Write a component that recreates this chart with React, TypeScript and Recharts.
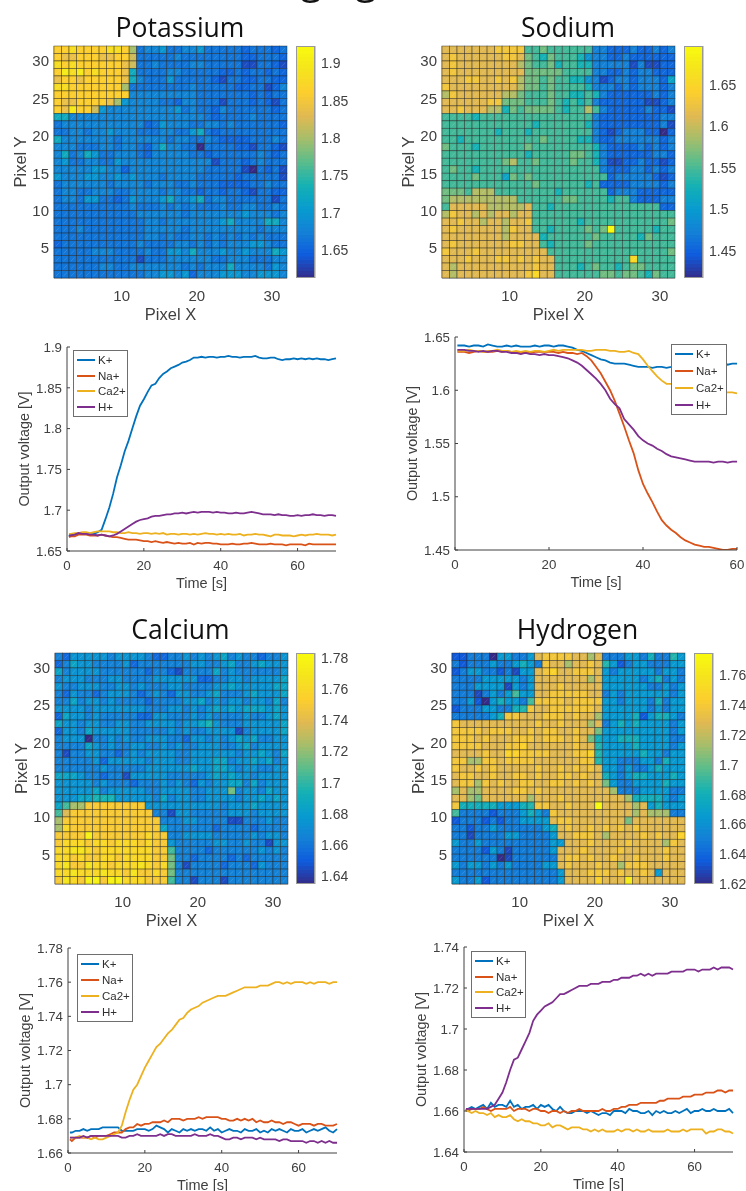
import React from 'react';
import { ScatterChart, Scatter, XAxis, YAxis, LineChart, Line, Legend } from 'recharts';

const ionNames = ['K+', 'Na+', 'Ca2+', 'H+'];
const ionColors = ['#0072BD', '#D95319', '#EDB120', '#7E2F8E'];
const parulaStops = ['#352A87', '#0F5CDD', '#1481D6', '#079CCF', '#15B1B4', '#59BD8C', '#A5BE6B', '#E1B952', '#FCCE2E', '#F5E41D', '#F9FB0E'];

// Map readings: one string per row (top row first), each char is an index into that map's voltage levels
const potassiumLevels = [1.613, 1.634, 1.652, 1.665, 1.68, 1.699, 1.725, 1.758, 1.778, 1.799, 1.82, 1.84, 1.861, 1.882, 1.902, 1.923];
const potassiumRows = [
  'ccdccccddc 9344533445 33333233323',
  'cbbcccbbcc a333334333 33333223332',
  'dcdccccccb a334333344 33333113321',
  'cedecdcccb 6333344333 33223233232',
  'bccbcccccb 6433353333 32133223322',
  'ddccccccc9 3333333343 33332233124',
  'cccccccccc 4444444443 33333323233',
  'cbbccccb95 4444332443 33133323213',
  'cbecca5444 4444445343 32433333323',
  '6644444444 4444444444 32333343333',
  '3444444444 4423544433 44343333332',
  '3344344544 4333443356 32333333333',
  '6444444434 4444434433 43222233343',
  '4443334434 4324644330 33332213321',
  '4634653344 4324444433 23333334323',
  '4533443354 4444444444 41333234333',
  '4444455442 4444444444 33333103231',
  '5444554454 5444344443 33332333331',
  '3444444344 4434443343 33222233433',
  '3443344433 4444344332 33233213322',
  '3443553323 5444564456 34433333313',
  '3333333333 4333434343 33433443343',
  '3333333333 3444444344 44444544434',
  '3333333333 3344344444 44564444664',
  '3334333333 3344444344 44444443444',
  '3333333333 3344343344 34343434333',
  '2333333333 3433334434 34344455433',
  '3333344433 3343355464 44544544465',
  '3333333333 3133344444 43344433344',
  '3333334433 4444444343 44464444354',
  '3333333333 3344554524 44555445554'
];

const sodiumLevels = [1.417, 1.436, 1.454, 1.473, 1.492, 1.51, 1.529, 1.548, 1.566, 1.591, 1.613, 1.63, 1.655, 1.667, 1.678, 1.697];
const sodiumRows = [
  'aaaaaaabbb b778777777 33222322323',
  'abaaaaaabb a876877764 33223222222',
  'abaaaaaaaa 9877867766 33333131122',
  'abaaaaaaaa a888887777 33223233222',
  'aaabbaabab 9887877664 31233233325',
  'baaaaaaaaa 9887877776 33323233323',
  '9baaaaaa99 8777877667 63222222323',
  'aaaaaabb88 8777876767 32222221123',
  'aabaaa9968 7888876779 73222223221',
  '7777677777 7777777777 32222222233',
  '7777777777 7767777776 32222222231',
  '7777777677 7677777777 32123332202',
  '7767777777 7778777766 32233333323',
  '8777677777 7877777777 63222232323',
  '7777777777 7677777887 63222222332',
  '7777777789 7787777877 63112232212',
  '7877677777 7777777777 73222332323',
  '7777877758 7877777777 77233333212',
  '7777777777 7787777776 72222333323',
  '8887999777 7777767777 77233322222',
  '8999999999 7777778877 77677322233',
  '7aaaaa9999 9a77677777 77777777722',
  '9baa9a9aa9 aa77777777 77777777777',
  'aabaa9aa9a ab77777767 77777777778',
  'abaaaaaa9b aa77677778 78f77777677',
  'aaaaaaaa9a aaa6777777 87777768777',
  'abaaaaaaab baa7677778 77777777777',
  'baaabaaaaa aaaa777777 77777777778',
  'aaabaaabba babaa77777 77777c77777',
  'a9aaaaaaaa aabaa77767 87767887777',
  'a9aaaaaaaa abcaa77777 78878876877'
];

const calciumLevels = [1.635, 1.645, 1.655, 1.665, 1.675, 1.685, 1.695, 1.704, 1.714, 1.724, 1.737, 1.7505, 1.7594, 1.768, 1.777, 1.783];
const calciumRows = [
  '3244444344 4432233434 34534332334',
  '2354433334 2333333344 33453345444',
  '5344443333 3323321333 35343333334',
  '3444333443 3334444442 23344344445',
  '4334443344 3433344333 34454444455',
  '3243323444 3234324433 45333454445',
  '3353443433 3323333445 34344344353',
  '4444344444 4433344343 45454555454',
  '2544343333 3224433343 43333433454',
  '5443443344 3344443445 64333444445',
  '2443544444 3333343433 44441344445',
  '3444033434 3344433244 34345453344',
  '3333543433 4433434334 44334534444',
  '3133443323 4344443344 44443445435',
  '3333342444 4434443344 45534454534',
  '3333334333 3344444454 45543443344',
  '5554332331 4444433333 45454434444',
  '4444434333 2333434324 34455353444',
  '4444453444 4433444433 44483443544',
  '4445566644 4443534433 44443445454',
  '5799bbbbbb bb44444444 44344454444',
  '7abbbbbbbb bbb3314433 33344434444',
  '9bbbbbbbbb bbbb333443 33311333433',
  '9cbbbbbbbb bbbb533333 32333323333',
  'bbbbebbbbb bbcbb33444 43333343443',
  'bcccbccbcc cbcbb43333 34433433144',
  'ccddcbcccc cccbb73333 23333334343',
  'ccbcbbccbc cccbb83323 33323233333',
  'cdbbdccbcc cdcbc83133 33233324333',
  'ccdcccdccb dbbcb83333 33333333333',
  'bdcbeebeec ccbbb73313 33133333333'
];

const hydrogenLevels = [1.62, 1.63, 1.635, 1.649, 1.665, 1.679, 1.685, 1.692, 1.703, 1.713, 1.7286, 1.738, 1.747, 1.754, 1.765, 1.775];
const hydrogenRows = [
  '2233304433 4abbbbaa9a 33344353364',
  '3233343345 43baa9aaba 64234433344',
  '2344332314 4abcaabbba 43444443443',
  '3333444443 4aaaaaaa9a 44444345343',
  '3334444143 4aaabaaaaa 44444433434',
  '3331343474 4aabbbbbaa 34344444434',
  '3342045443 7bbbbabbbb 44344435344',
  '2333443356 baabbbbbba 44444434344',
  '3333345bba aabbbabaa9 44445245543',
  'baaaaaaaaa abaabaaa9a 34545444434',
  'bbbbabbbaa babbaabaa8 44444444434',
  'bbbabaaabb babbbaba85 44555444433',
  'bbbbaaabbc aaaaaabaa6 44445444434',
  'aaaabaaccb bbbaaabbc6 44444544344',
  'bb99bbabbb baaaaaabb6 44333443544',
  'baababaaaa abaabababa 44343345444',
  'abbaabaabb abaabbabaa 54345544454',
  'abb9babaab baabbababa 84334444544',
  '9a99aaaabb abaaaaaaaa a9333444433',
  'aa98aaaaaa 9aaabaaaaa aaa95555434',
  'b555554445 6bbaabaaaf aaaa9a45444',
  '7333323334 543baaaaaa aaaa9a99933',
  '2333232334 444abbaaaa aaa8aaaaaaa',
  '3323343333 3345abaaba bababaaaaaa',
  '3313333443 3334aabbba 9aaaababaac',
  '4334333333 33344aaaba aaabaaaa9ba',
  '3333243133 3334aaabaa aabaaaaabaa',
  '3333330133 3333abbaba abaabaaabaa',
  '4344343433 3344abaaab aa9bbbaaaaa',
  '3333333333 33334aaabb babaaba4aaa',
  '4334233333 33334aaaac aaaeaaaaaaa'
];

const potassiumTimes = [0.5, 1, 2, 3, 4, 5, 6, 7, 8, 9, 10, 11, 12, 13, 14, 15, 16, 17, 18, 19, 20, 21, 22, 23, 24, 25, 26, 27, 28, 29, 30, 31, 32, 33, 34, 35, 36, 37, 38, 39, 40, 41, 42, 43, 44, 45, 46, 47, 48, 49, 50, 51, 52, 53, 54, 55, 56, 57, 58, 59, 60, 61, 62, 63, 64, 65, 66, 67, 68, 69, 70];
const sodiumTimes = potassiumTimes.slice(0, 61);

const kPanelK = [1.668, 1.670, 1.670, 1.671, 1.671, 1.671, 1.670, 1.671, 1.673, 1.676, 1.689,
  1.703, 1.720, 1.740, 1.755, 1.772, 1.785, 1.800, 1.815, 1.828, 1.836,
  1.845, 1.853, 1.855, 1.862, 1.867, 1.870, 1.874, 1.876, 1.878, 1.881,
  1.882, 1.884, 1.887, 1.887, 1.888, 1.887, 1.888, 1.888, 1.887, 1.888,
  1.888, 1.889, 1.888, 1.888, 1.887, 1.888, 1.888, 1.888, 1.889, 1.887,
  1.886, 1.886, 1.887, 1.887, 1.885, 1.884, 1.885, 1.885, 1.886, 1.885,
  1.886, 1.885, 1.886, 1.885, 1.886, 1.885, 1.885, 1.884, 1.885, 1.886];
const kPanelNa = [1.667, 1.668, 1.668, 1.670, 1.670, 1.670, 1.669, 1.669, 1.669, 1.670, 1.669,
  1.668, 1.667, 1.667, 1.666, 1.665, 1.664, 1.664, 1.664, 1.663, 1.662,
  1.662, 1.661, 1.662, 1.661, 1.660, 1.661, 1.660, 1.659, 1.660, 1.659,
  1.659, 1.660, 1.658, 1.660, 1.659, 1.660, 1.660, 1.659, 1.659, 1.658,
  1.658, 1.658, 1.659, 1.658, 1.658, 1.659, 1.659, 1.660, 1.659, 1.658,
  1.658, 1.658, 1.659, 1.658, 1.658, 1.658, 1.657, 1.658, 1.658, 1.658,
  1.658, 1.657, 1.659, 1.658, 1.658, 1.658, 1.658, 1.658, 1.658, 1.658];
const kPanelCa = [1.671, 1.671, 1.672, 1.672, 1.673, 1.673, 1.672, 1.673, 1.674, 1.674, 1.674,
  1.674, 1.673, 1.673, 1.672, 1.672, 1.673, 1.672, 1.672, 1.671, 1.672,
  1.672, 1.671, 1.672, 1.671, 1.672, 1.670, 1.671, 1.671, 1.670, 1.671,
  1.671, 1.670, 1.671, 1.670, 1.671, 1.672, 1.671, 1.671, 1.670, 1.671,
  1.670, 1.671, 1.670, 1.670, 1.671, 1.669, 1.670, 1.670, 1.671, 1.670,
  1.670, 1.669, 1.668, 1.670, 1.670, 1.669, 1.669, 1.669, 1.668, 1.669,
  1.670, 1.669, 1.670, 1.670, 1.671, 1.670, 1.670, 1.670, 1.669, 1.670];
const kPanelH = [1.669, 1.669, 1.670, 1.672, 1.671, 1.671, 1.670, 1.670, 1.669, 1.670, 1.669,
  1.668, 1.669, 1.671, 1.674, 1.677, 1.680, 1.683, 1.686, 1.688, 1.689,
  1.690, 1.692, 1.693, 1.693, 1.694, 1.695, 1.695, 1.696, 1.696, 1.697,
  1.696, 1.697, 1.698, 1.697, 1.698, 1.698, 1.698, 1.697, 1.698, 1.697,
  1.697, 1.696, 1.696, 1.697, 1.696, 1.696, 1.697, 1.698, 1.697, 1.696,
  1.695, 1.695, 1.695, 1.694, 1.695, 1.694, 1.694, 1.693, 1.693, 1.694,
  1.693, 1.694, 1.694, 1.695, 1.694, 1.694, 1.693, 1.694, 1.694, 1.693];

const naPanelK = [1.642, 1.642, 1.642, 1.641, 1.642, 1.642, 1.641, 1.643, 1.642, 1.641, 1.641,
  1.642, 1.641, 1.642, 1.641, 1.641, 1.641, 1.642, 1.641, 1.642, 1.642,
  1.641, 1.642, 1.642, 1.641, 1.640, 1.638, 1.637, 1.635, 1.633, 1.631,
  1.629, 1.628, 1.626, 1.625, 1.625, 1.625, 1.624, 1.623, 1.622, 1.622,
  1.622, 1.621, 1.622, 1.622, 1.621, 1.622, 1.624, 1.624, 1.624, 1.625,
  1.626, 1.626, 1.625, 1.626, 1.626, 1.625, 1.626, 1.624, 1.625, 1.625];
const naPanelNa = [1.636, 1.636, 1.636, 1.635, 1.636, 1.637, 1.636, 1.636, 1.636, 1.637, 1.636,
  1.637, 1.636, 1.636, 1.635, 1.636, 1.635, 1.636, 1.636, 1.636, 1.636,
  1.636, 1.635, 1.636, 1.635, 1.635, 1.634, 1.635, 1.632, 1.628, 1.622,
  1.616, 1.608, 1.600, 1.590, 1.578, 1.566, 1.553, 1.541, 1.525, 1.512,
  1.503, 1.495, 1.486, 1.478, 1.473, 1.469, 1.466, 1.462, 1.459, 1.457,
  1.455, 1.454, 1.453, 1.453, 1.452, 1.451, 1.450, 1.450, 1.451, 1.451];
const naPanelCa = [1.637, 1.637, 1.637, 1.638, 1.637, 1.637, 1.636, 1.637, 1.637, 1.638, 1.637,
  1.637, 1.636, 1.637, 1.636, 1.637, 1.636, 1.637, 1.637, 1.636, 1.637,
  1.638, 1.637, 1.638, 1.638, 1.638, 1.638, 1.638, 1.637, 1.637, 1.638,
  1.638, 1.638, 1.637, 1.637, 1.636, 1.636, 1.637, 1.635, 1.634, 1.629,
  1.623, 1.618, 1.613, 1.609, 1.606, 1.606, 1.605, 1.605, 1.604, 1.603,
  1.602, 1.601, 1.600, 1.600, 1.599, 1.599, 1.598, 1.598, 1.598, 1.597];
const naPanelH = [1.638, 1.638, 1.638, 1.637, 1.637, 1.636, 1.637, 1.636, 1.637, 1.637, 1.636,
  1.636, 1.635, 1.635, 1.634, 1.635, 1.634, 1.634, 1.633, 1.634, 1.633,
  1.633, 1.632, 1.631, 1.630, 1.628, 1.626, 1.623, 1.619, 1.615, 1.611,
  1.606, 1.600, 1.592, 1.587, 1.583, 1.573, 1.568, 1.563, 1.557, 1.553,
  1.550, 1.548, 1.545, 1.543, 1.540, 1.538, 1.537, 1.536, 1.535, 1.534,
  1.533, 1.533, 1.533, 1.533, 1.532, 1.533, 1.533, 1.532, 1.533, 1.533];

const caPanelK = [1.672, 1.672, 1.673, 1.673, 1.674, 1.673, 1.674, 1.674, 1.674, 1.675, 1.675,
  1.675, 1.675, 1.675, 1.673, 1.673, 1.673, 1.673, 1.674, 1.674, 1.674,
  1.673, 1.674, 1.676, 1.675, 1.674, 1.672, 1.674, 1.673, 1.672, 1.674,
  1.673, 1.674, 1.673, 1.674, 1.674, 1.673, 1.675, 1.673, 1.674, 1.672,
  1.673, 1.674, 1.673, 1.673, 1.672, 1.674, 1.673, 1.673, 1.674, 1.672,
  1.673, 1.672, 1.674, 1.673, 1.674, 1.673, 1.672, 1.674, 1.673, 1.673,
  1.674, 1.672, 1.673, 1.674, 1.673, 1.674, 1.675, 1.673, 1.672, 1.674];
const caPanelNa = [1.668, 1.667, 1.669, 1.669, 1.669, 1.669, 1.670, 1.669, 1.670, 1.670, 1.670,
  1.671, 1.672, 1.672, 1.672, 1.674, 1.675, 1.675, 1.677, 1.676, 1.677,
  1.677, 1.678, 1.678, 1.678, 1.679, 1.678, 1.680, 1.680, 1.680, 1.679,
  1.680, 1.680, 1.680, 1.681, 1.680, 1.681, 1.681, 1.681, 1.681, 1.680,
  1.680, 1.679, 1.679, 1.680, 1.679, 1.680, 1.679, 1.680, 1.678, 1.679,
  1.678, 1.678, 1.679, 1.678, 1.678, 1.677, 1.678, 1.678, 1.677, 1.676,
  1.677, 1.677, 1.677, 1.676, 1.677, 1.677, 1.676, 1.676, 1.676, 1.677];
const caPanelCa = [1.669, 1.669, 1.669, 1.670, 1.669, 1.669, 1.668, 1.669, 1.668, 1.668, 1.669,
  1.670, 1.671, 1.672, 1.676, 1.684, 1.691, 1.697, 1.700, 1.705, 1.710,
  1.714, 1.718, 1.722, 1.724, 1.727, 1.730, 1.732, 1.735, 1.738, 1.739,
  1.742, 1.744, 1.745, 1.746, 1.748, 1.749, 1.750, 1.751, 1.752, 1.752,
  1.752, 1.753, 1.754, 1.755, 1.756, 1.757, 1.757, 1.757, 1.757, 1.758,
  1.758, 1.758, 1.759, 1.760, 1.760, 1.759, 1.760, 1.759, 1.760, 1.760,
  1.760, 1.759, 1.760, 1.759, 1.760, 1.760, 1.760, 1.759, 1.760, 1.760];
const caPanelH = [1.669, 1.669, 1.669, 1.669, 1.670, 1.669, 1.670, 1.670, 1.670, 1.670, 1.670,
  1.670, 1.670, 1.670, 1.669, 1.669, 1.670, 1.670, 1.671, 1.670, 1.670,
  1.670, 1.670, 1.670, 1.671, 1.670, 1.671, 1.671, 1.670, 1.670, 1.670,
  1.670, 1.670, 1.671, 1.670, 1.670, 1.670, 1.671, 1.670, 1.670, 1.669,
  1.668, 1.668, 1.669, 1.669, 1.668, 1.669, 1.669, 1.669, 1.668, 1.669,
  1.668, 1.668, 1.668, 1.668, 1.667, 1.668, 1.668, 1.667, 1.667, 1.667,
  1.667, 1.666, 1.667, 1.667, 1.666, 1.667, 1.666, 1.667, 1.666, 1.666];

const hPanelK = [1.660, 1.661, 1.662, 1.661, 1.662, 1.663, 1.661, 1.664, 1.662, 1.663, 1.663,
  1.662, 1.665, 1.662, 1.663, 1.661, 1.662, 1.662, 1.663, 1.661, 1.663,
  1.662, 1.663, 1.661, 1.660, 1.662, 1.660, 1.659, 1.659, 1.660, 1.660,
  1.660, 1.659, 1.660, 1.659, 1.658, 1.659, 1.659, 1.658, 1.660, 1.660,
  1.660, 1.659, 1.661, 1.660, 1.660, 1.659, 1.659, 1.660, 1.658, 1.660,
  1.659, 1.660, 1.659, 1.659, 1.660, 1.659, 1.660, 1.661, 1.659, 1.660,
  1.660, 1.661, 1.660, 1.660, 1.661, 1.660, 1.660, 1.660, 1.661, 1.659];
const hPanelNa = [1.661, 1.660, 1.661, 1.661, 1.661, 1.662, 1.661, 1.660, 1.661, 1.661, 1.661,
  1.661, 1.662, 1.660, 1.661, 1.661, 1.661, 1.660, 1.661, 1.661, 1.660,
  1.660, 1.659, 1.660, 1.660, 1.659, 1.660, 1.659, 1.660, 1.660, 1.661,
  1.660, 1.660, 1.660, 1.660, 1.660, 1.661, 1.660, 1.660, 1.661, 1.661,
  1.662, 1.662, 1.663, 1.663, 1.663, 1.664, 1.664, 1.664, 1.664, 1.664,
  1.665, 1.665, 1.666, 1.666, 1.666, 1.666, 1.667, 1.667, 1.667, 1.668,
  1.668, 1.668, 1.669, 1.669, 1.669, 1.670, 1.670, 1.669, 1.670, 1.670];
const hPanelCa = [1.660, 1.660, 1.659, 1.660, 1.659, 1.659, 1.658, 1.659, 1.657, 1.658, 1.657,
  1.657, 1.658, 1.656, 1.655, 1.656, 1.655, 1.655, 1.654, 1.654, 1.653,
  1.653, 1.654, 1.652, 1.653, 1.653, 1.652, 1.651, 1.652, 1.652, 1.652,
  1.651, 1.651, 1.650, 1.651, 1.650, 1.651, 1.650, 1.650, 1.650, 1.651,
  1.650, 1.651, 1.651, 1.650, 1.651, 1.650, 1.650, 1.651, 1.650, 1.650,
  1.650, 1.650, 1.651, 1.650, 1.650, 1.650, 1.651, 1.650, 1.651, 1.651,
  1.651, 1.651, 1.649, 1.650, 1.650, 1.651, 1.651, 1.650, 1.650, 1.649];
const hPanelH = [1.661, 1.661, 1.661, 1.661, 1.661, 1.661, 1.661, 1.662, 1.663, 1.666, 1.669,
  1.674, 1.680, 1.685, 1.686, 1.690, 1.694, 1.698, 1.704, 1.707, 1.709,
  1.711, 1.712, 1.713, 1.715, 1.717, 1.717, 1.718, 1.719, 1.720, 1.721,
  1.721, 1.721, 1.722, 1.722, 1.722, 1.723, 1.723, 1.723, 1.724, 1.724,
  1.725, 1.725, 1.725, 1.726, 1.726, 1.727, 1.726, 1.727, 1.726, 1.727,
  1.727, 1.727, 1.727, 1.728, 1.728, 1.728, 1.728, 1.729, 1.729, 1.729,
  1.728, 1.729, 1.729, 1.729, 1.730, 1.729, 1.730, 1.730, 1.730, 1.729];

const pixelXTicks = [10, 20, 30];
const pixelYTicks = [5, 10, 15, 20, 25, 30];

const TXT = '#404040';
const SANS = '"Liberation Sans", Arial, sans-serif';

function hexRgb(h: string) {
  return [1, 3, 5].map(i => parseInt(h.slice(i, i + 2), 16));
}
function parula(t: number) {
  const u = Math.max(0, Math.min(1, t)) * (parulaStops.length - 1);
  const i = Math.min(parulaStops.length - 2, Math.floor(u));
  const a = hexRgb(parulaStops[i]);
  const b = hexRgb(parulaStops[i + 1]);
  const f = u - i;
  return `rgb(${a.map((v, k) => Math.round(v + (b[k] - v) * f)).join(',')})`;
}
function cellsFrom(rows: string[], levels: number[]) {
  const out: { x: number; y: number; v: number }[] = [];
  rows.forEach((row, r) => {
    const chars = row.replace(/ /g, '');
    for (let c = 0; c < 31; c++) {
      const idx = parseInt(chars[c] ?? '3', 16);
      out.push({ x: c + 1.5, y: 31.5 - r, v: levels[idx] });
    }
  });
  return out;
}

function HeatPanel({ rows, levels, plot, cbLeft, cbTicks, title, titleX, titleY }: any) {
  const vmin = levels[0];
  const vmax = levels[levels.length - 1];
  const cells = cellsFrom(rows, levels);
  const cw = plot.w / 31;
  const ch = plot.h / 31;
  const ramp = Array.from({ length: 64 }, (_, i) => ({ x: 0.5, y: vmin + ((i + 0.5) / 64) * (vmax - vmin) }));
  const cbW = 19;
  return (
    <>
      <div style={{ position: 'absolute', left: titleX - 150, width: 300, top: titleY - 29, height: 40, lineHeight: '40px', textAlign: 'center', fontFamily: '"Open Sans", sans-serif', fontSize: 26.5, color: '#111' }}>{title}</div>
      <div style={{ position: 'absolute', left: plot.l - 54, top: plot.t - 10 }}>
        <ScatterChart width={plot.w + 54 + 10} height={plot.h + 10 + 46} margin={{ top: 10, right: 10, bottom: 0, left: 0 }}>
          <XAxis type="number" dataKey="x" domain={[1, 32]} ticks={pixelXTicks} height={46} stroke="#888" tickLine={false} tickMargin={6}
            tick={{ fill: TXT, fontSize: 15, fontFamily: SANS }} interval={0}
            label={{ value: 'Pixel X', position: 'insideBottom', offset: 4, fill: TXT, fontSize: 16.5, fontFamily: SANS }} />
          <YAxis type="number" dataKey="y" domain={[1, 32]} ticks={pixelYTicks} width={54} stroke="#888" tickLine={false} tickSize={0} tickMargin={5}
            tick={{ fill: TXT, fontSize: 15, fontFamily: SANS }} interval={0}
            label={{ value: 'Pixel Y', angle: -90, position: 'insideLeft', offset: 20, textAnchor: 'middle', fill: TXT, fontSize: 16.5, fontFamily: SANS }} />
          <Scatter data={cells} isAnimationActive={false}
            shape={(p: any) => (
              <g>
                <rect x={p.cx - cw / 2} y={p.cy - ch / 2} width={cw} height={ch} fill={parula((p.payload.v - vmin) / (vmax - vmin))} stroke="#1c1c1c" strokeOpacity={0.6} strokeWidth={0.7} />
                <line x1={p.cx - cw / 2 + 2} y1={p.cy + ch / 2 - 2} x2={p.cx + cw / 2 - 2} y2={p.cy - ch / 2 + 2} stroke="#fff" strokeOpacity={0.14} strokeWidth={1} />
              </g>
            )} />
        </ScatterChart>
      </div>
      <div style={{ position: 'absolute', left: cbLeft, top: plot.t - 10 }}>
        <ScatterChart width={cbW + 34} height={plot.h + 20} margin={{ top: 10, right: 0, bottom: 10, left: 0 }}>
          <XAxis type="number" dataKey="x" domain={[0, 1]} hide />
          <YAxis type="number" dataKey="y" domain={[vmin, vmax]} ticks={cbTicks} orientation="right" width={34} stroke="#999" tickLine={false} tickSize={0} tickMargin={6} interval={0} allowDataOverflow
            tick={{ fill: TXT, fontSize: 14, fontFamily: SANS, textAnchor: 'start' }}
            tickFormatter={(v: number) => String(v)} />
          <Scatter data={ramp} isAnimationActive={false}
            shape={(p: any) => <rect x={p.cx - cbW / 2} y={p.cy - plot.h / 128 - 0.4} width={cbW} height={plot.h / 64 + 0.8} fill={parula((p.payload.y - vmin) / (vmax - vmin))} />} />
        </ScatterChart>
      </div>
      <div style={{ position: 'absolute', left: cbLeft, top: plot.t, width: cbW, height: plot.h, boxSizing: 'border-box', border: '1px solid #999' }} />
    </>
  );
}

function LinePanel({ times, series, plot, xMax, xTicks, yDomain, yTicks, legend }: any) {
  const data = times.map((t: number, i: number) => ({ t, k: series[0][i], na: series[1][i], ca: series[2][i], h: series[3][i] }));
  const yW = 67;
  const keys = ['k', 'na', 'ca', 'h'];
  return (
    <div style={{ position: 'absolute', left: plot.l - yW, top: plot.t - 10 }}>
      <LineChart width={plot.w + yW + 9} height={plot.h + 10 + 42} data={data} margin={{ top: 10, right: 9, bottom: 0, left: 0 }}>
        <XAxis type="number" dataKey="t" domain={[0, xMax]} ticks={xTicks} height={42} stroke={TXT} tickSize={-3} tickMargin={13} interval={0}
          tick={{ fill: TXT, fontSize: 13.3, fontFamily: SANS }}
          label={{ value: 'Time [s]', position: 'insideBottom', offset: 5, fill: TXT, fontSize: 14.5, fontFamily: SANS }} />
        <YAxis type="number" domain={yDomain} ticks={yTicks} width={yW} stroke={TXT} tickSize={-3} tickMargin={8} interval={0} allowDataOverflow
          tick={{ fill: TXT, fontSize: 13.3, fontFamily: SANS }} tickFormatter={(v: number) => String(v)}
          label={{ value: 'Output voltage [V]', angle: -90, position: 'insideLeft', offset: 24, textAnchor: 'middle', fill: TXT, fontSize: 14.4, fontFamily: SANS }} />
        {keys.map((k, i) => (
          <Line key={k} type="linear" dataKey={k} name={ionNames[i]} stroke={ionColors[i]} strokeWidth={1.8} dot={false} isAnimationActive={false} />
        ))}
        <Legend layout="vertical" align="center" verticalAlign="middle" itemSorter={null}
          wrapperStyle={{ left: legend.x - plot.l + yW, top: legend.y - plot.t + 10, width: legend.w, height: legend.h, right: 'auto', bottom: 'auto', transform: 'none' }}
          content={(p: any) => (
            <div style={{ width: legend.w, height: legend.h, boxSizing: 'border-box', border: '1px solid #6e6e6e', background: '#fff', position: 'relative' }}>
              {p.payload.map((it: any, i: number) => (
                <div key={it.value} style={{ position: 'absolute', left: 2, top: 1 + (legend.h - 4) * (i + 0.5) / 4 - 8, height: 16, display: 'flex', alignItems: 'center' }}>
                  <span style={{ display: 'inline-block', width: 18, height: 2, background: it.color, marginLeft: 1 }} />
                  <span style={{ marginLeft: 3, fontSize: 11.5, fontFamily: SANS, color: '#303030' }}>{it.value}</span>
                </div>
              ))}
            </div>
          )} />
      </LineChart>
    </div>
  );
}

export default function App() {
  return (
    <div style={{ position: 'absolute', left: 0, top: 0, width: 746, height: 1191, overflow: 'hidden', background: '#fff', filter: 'blur(0.6px)' }}>
      <svg width={746} height={20} style={{ position: 'absolute', left: 0, top: 0 }}>
        <text x={232} y={-6} fontSize={39} fontFamily='"Open Sans", sans-serif' fill="#111">Imaging</text>
      </svg>
      <HeatPanel title="Potassium" titleX={180} titleY={36} rows={potassiumRows} levels={potassiumLevels} plot={{ l: 54, t: 46, w: 233, h: 232 }} cbLeft={296} cbTicks={[1.65, 1.7, 1.75, 1.8, 1.85, 1.9]} />
      <HeatPanel title="Sodium" titleX={568} titleY={36} rows={sodiumRows} levels={sodiumLevels} plot={{ l: 442, t: 46, w: 233, h: 232 }} cbLeft={684} cbTicks={[1.45, 1.5, 1.55, 1.6, 1.65]} />
      <HeatPanel title="Calcium" titleX={180.5} titleY={638} rows={calciumRows} levels={calciumLevels} plot={{ l: 55, t: 653, w: 233, h: 231 }} cbLeft={296} cbTicks={[1.64, 1.66, 1.68, 1.7, 1.72, 1.74, 1.76, 1.78]} />
      <HeatPanel title="Hydrogen" titleX={577.5} titleY={638} rows={hydrogenRows} levels={hydrogenLevels} plot={{ l: 452, t: 653, w: 233, h: 231 }} cbLeft={694} cbTicks={[1.62, 1.64, 1.66, 1.68, 1.7, 1.72, 1.74, 1.76]} />
      <LinePanel times={potassiumTimes} series={[kPanelK, kPanelNa, kPanelCa, kPanelH]} plot={{ l: 67, t: 347, w: 269, h: 204 }} xMax={70} xTicks={[0, 20, 40, 60]} yDomain={[1.65, 1.9]} yTicks={[1.65, 1.7, 1.75, 1.8, 1.85, 1.9]} legend={{ x: 73, y: 350, w: 55, h: 67 }} />
      <LinePanel times={sodiumTimes} series={[naPanelK, naPanelNa, naPanelCa, naPanelH]} plot={{ l: 455, t: 337, w: 282, h: 213 }} xMax={60} xTicks={[0, 20, 40, 60]} yDomain={[1.45, 1.65]} yTicks={[1.45, 1.5, 1.55, 1.6, 1.65]} legend={{ x: 671, y: 344, w: 56, h: 71 }} />
      <LinePanel times={potassiumTimes} series={[caPanelK, caPanelNa, caPanelCa, caPanelH]} plot={{ l: 68, t: 948, w: 269, h: 205 }} xMax={70} xTicks={[0, 20, 40, 60]} yDomain={[1.66, 1.78]} yTicks={[1.66, 1.68, 1.7, 1.72, 1.74, 1.76, 1.78]} legend={{ x: 77, y: 954, w: 56, h: 68 }} />
      <LinePanel times={potassiumTimes} series={[hPanelK, hPanelNa, hPanelCa, hPanelH]} plot={{ l: 464, t: 947, w: 269, h: 205 }} xMax={70} xTicks={[0, 20, 40, 60]} yDomain={[1.64, 1.74]} yTicks={[1.64, 1.66, 1.68, 1.7, 1.72, 1.74]} legend={{ x: 471, y: 951, w: 55, h: 67 }} />
    </div>
  );
}
